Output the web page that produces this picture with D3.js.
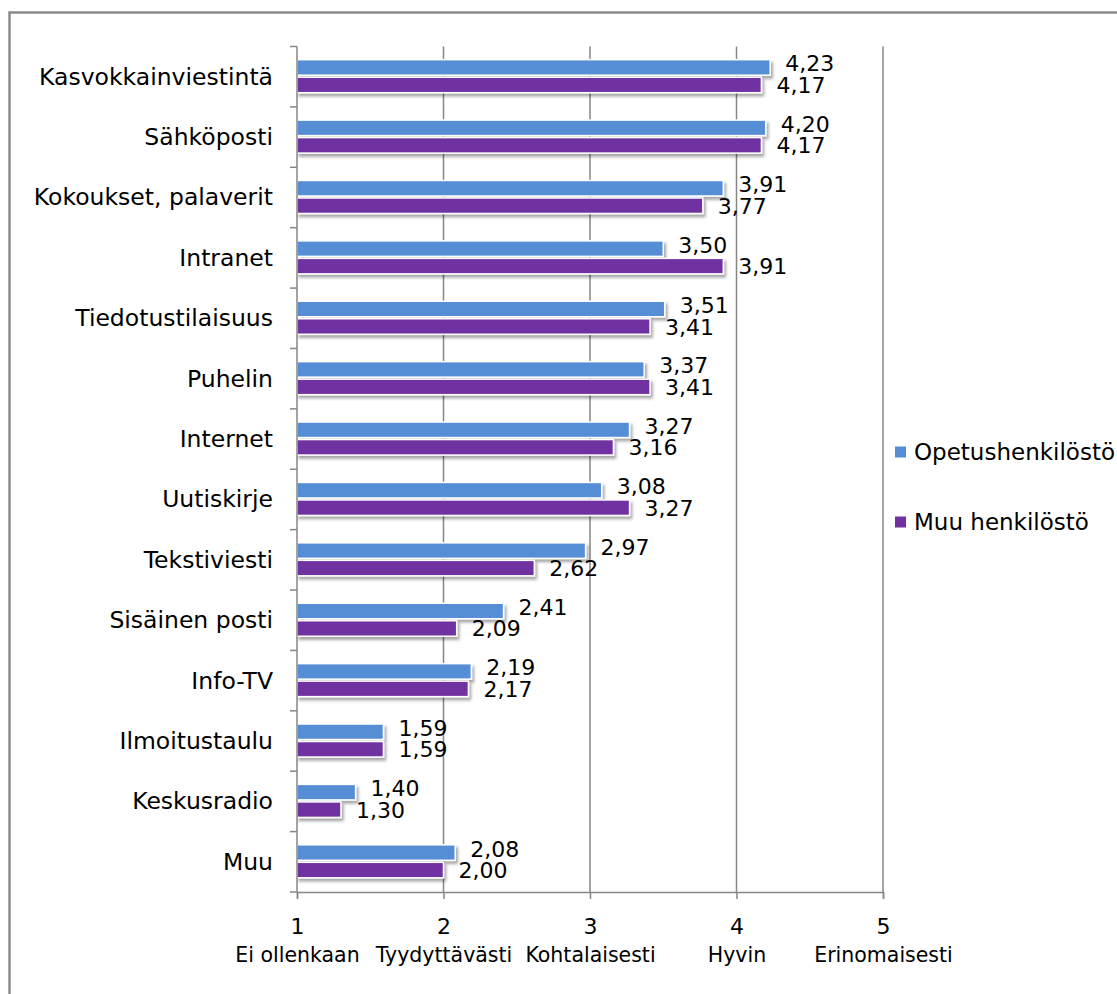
<!DOCTYPE html>
<html>
<head>
<meta charset="utf-8">
<script src="https://cdn.jsdelivr.net/npm/d3@7"></script>
<style>
  body { margin: 0; background: #fff; }
  svg { display: block; }
  text { font-family: 'DejaVu Sans', sans-serif; fill: #000; }
</style>
</head>
<body>
<div class="viz"></div>
<script>
'use strict'

const width = 1117,
  height = 994;
const margin = {top: 46.5, right: 231, bottom: 102, left: 297};

// data
const categories = ['Kasvokkainviestintä', 'Sähköposti', 'Kokoukset, palaverit',
  'Intranet', 'Tiedotustilaisuus', 'Puhelin', 'Internet', 'Uutiskirje',
  'Tekstiviesti', 'Sisäinen posti', 'Info-TV', 'Ilmoitustaulu', 'Keskusradio', 'Muu'];
const opetus = [4.23, 4.20, 3.91, 3.50, 3.51, 3.37, 3.27, 3.08, 2.97, 2.41, 2.19, 1.59, 1.40, 2.08];
const muu = [4.17, 4.17, 3.77, 3.91, 3.41, 3.41, 3.16, 3.27, 2.62, 2.09, 2.17, 1.59, 1.30, 2.00];
const series_names = ['Opetushenkilöstö', 'Muu henkilöstö'];
const series_colors = ['#558ed5', '#7030a0'];
const x_ticks = [1, 2, 3, 4, 5];
const x_tick_names = ['Ei ollenkaan', 'Tyydyttävästi', 'Kohtalaisesti', 'Hyvin', 'Erinomaisesti'];

const grid_color = '#868686';
const fmt = v => d3.format('.2f')(v).replace('.', ',');

let svg = d3.select('.viz')
  .append('svg')
  .attr('width', width)
  .attr('height', height);

// bar shadow
let filter = svg.append('defs').append('filter')
  .attr('id', 'shadow')
  .attr('x', '-5%').attr('y', '-30%')
  .attr('width', '115%').attr('height', '180%');
filter.append('feDropShadow')
  .attr('dx', 2).attr('dy', 3)
  .attr('stdDeviation', 1.6)
  .attr('flood-color', '#000')
  .attr('flood-opacity', 0.35);

// outer frame
svg.append('rect')
  .attr('x', 9.5).attr('y', 12.5)
  .attr('width', 1300).attr('height', 1200)
  .attr('fill', 'none')
  .attr('stroke', '#8c8c8c')
  .attr('stroke-width', 2.5);

let x = d3.scaleLinear()
  .domain([1, 5])
  .range([margin.left, width - margin.right - 3]);
let y = d3.scaleBand()
  .domain(categories)
  .range([margin.top, height - margin.bottom])
  .paddingInner(0)
  .paddingOuter(0);
const bw = y.bandwidth();

// gridlines
svg.append('g')
  .selectAll('line')
  .data(x_ticks.slice(1))
  .join('line')
  .attr('x1', d => x(d)).attr('x2', d => x(d))
  .attr('y1', y.range()[0]).attr('y2', y.range()[1])
  .attr('stroke', grid_color)
  .attr('stroke-width', 1.5);

// bars
const rows = categories.map((c, i) => ({cat: c, vals: [opetus[i], muu[i]]}));
const bar_h = 15.5;
const bar_off = [-17, 0.5];
const label_dy = [-3.5, 0.5];

let groups = svg.append('g')
  .selectAll('g')
  .data(rows)
  .join('g')
  .attr('transform', d => `translate(0,${y(d.cat) + bw / 2})`);

groups.selectAll('rect')
  .data(d => d.vals)
  .join('rect')
  .attr('x', x(1))
  .attr('y', (d, j) => bar_off[j])
  .attr('width', d => x(d) - x(1))
  .attr('height', bar_h)
  .attr('fill', (d, j) => series_colors[j])
  .attr('stroke', '#fff')
  .attr('stroke-width', 1.5)
  .attr('filter', 'url(#shadow)');

groups.selectAll('text')
  .data(d => d.vals)
  .join('text')
  .attr('x', d => x(d) + 15)
  .attr('y', (d, j) => bar_off[j] + bar_h / 2 + label_dy[j])
  .attr('dominant-baseline', 'central')
  .style('font-size', '22px')
  .text(d => fmt(d));

// left axis
let yaxis = svg.append('g');
yaxis.append('line')
  .attr('x1', x(1)).attr('x2', x(1))
  .attr('y1', y.range()[0]).attr('y2', y.range()[1])
  .attr('stroke', grid_color).attr('stroke-width', 1.5);
yaxis.selectAll('.tick')
  .data(categories.map(c => y(c)).concat([y.range()[1]]))
  .join('line')
  .attr('class', 'tick')
  .attr('x1', x(1) - 7).attr('x2', x(1))
  .attr('y1', d => d).attr('y2', d => d)
  .attr('stroke', grid_color).attr('stroke-width', 1.5);
yaxis.selectAll('text')
  .data(categories)
  .join('text')
  .attr('x', x(1) - 24)
  .attr('y', d => y(d) + bw / 2)
  .attr('text-anchor', 'end')
  .attr('dominant-baseline', 'central')
  .style('font-size', '23.5px')
  .text(d => d);

// bottom axis
let xaxis = svg.append('g')
  .attr('transform', `translate(0,${y.range()[1]})`)
  .call(d3.axisBottom(x).tickValues(x_ticks).tickSize(7).tickFormat(d3.format('d')));
xaxis.select('.domain').attr('stroke', grid_color).attr('stroke-width', 1.5);
xaxis.selectAll('.tick line').attr('stroke', grid_color).attr('stroke-width', 1.5);
xaxis.selectAll('.tick text')
  .attr('y', 34)
  .attr('dy', null)
  .attr('dominant-baseline', 'central')
  .style('font-size', '22px')
  .style('font-family', null);
xaxis.selectAll('.tick')
  .append('text')
  .attr('y', 63)
  .attr('text-anchor', 'middle')
  .attr('dominant-baseline', 'central')
  .attr('fill', '#000')
  .style('font-size', '20.5px')
  .text((d, i) => x_tick_names[i]);

// legend
let legend = svg.append('g')
  .selectAll('g')
  .data(series_names)
  .join('g')
  .attr('transform', (d, i) => `translate(895,${452 + i * 70})`);
legend.append('rect')
  .attr('x', 0).attr('y', -5.5)
  .attr('width', 11).attr('height', 11)
  .attr('fill', (d, i) => series_colors[i]);
legend.append('text')
  .attr('x', 19)
  .attr('y', 0)
  .attr('dominant-baseline', 'central')
  .style('font-size', '23px')
  .text(d => d);
</script>
</body>
</html>
